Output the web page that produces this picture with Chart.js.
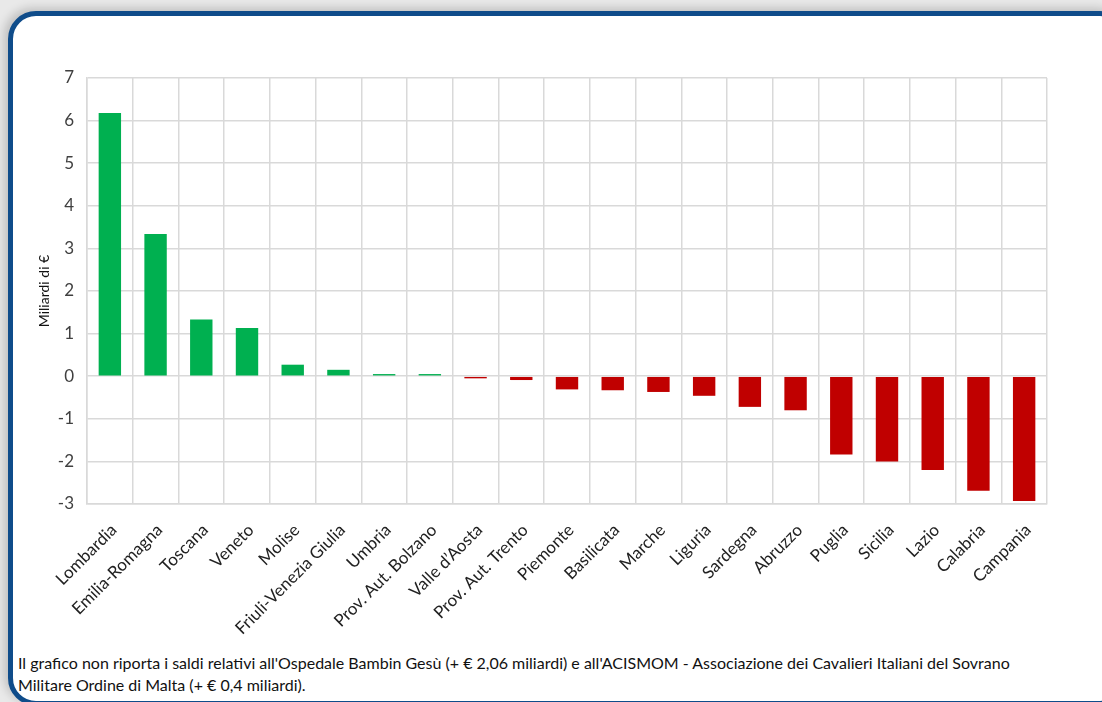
<!DOCTYPE html>
<html>
<head>
<meta charset="utf-8">
<script src="https://cdn.jsdelivr.net/npm/chart.js@4"></script>
<style>
    html, body { margin: 0; padding: 0; width: 1102px; height: 702px; overflow: hidden; background: #e9e9e9; }
    #box {
        position: absolute; left: 8px; top: 11px; width: 1120px; height: 695px;
        box-sizing: border-box; border: 5px solid #0f4c8a; border-radius: 28px;
        background: #fff; box-shadow: -4px -3px 10px rgba(0,0,0,0.18);
    }
    #wrap { position: absolute; left: 0; top: 0; width: 1102px; height: 650px; }
    #note {
        position: absolute; left: 18px; top: 652px; width: 1070px;
        font-family: Lato, "Open Sans", sans-serif; font-size: 16px; line-height: 22px; color: #111;
    }
</style>
</head>
<body>
<div id="box"></div>
<div id="wrap"><canvas id="chart" width="1102" height="650"></canvas></div>
<div id="note">Il grafico non riporta i saldi relativi all'Ospedale Bambin Gesù (+ € 2,06 miliardi) e all'ACISMOM - Associazione dei Cavalieri Italiani del Sovrano<br>Militare Ordine di Malta (+ € 0,4 miliardi).</div>
<script>
const regions = ['Lombardia', 'Emilia-Romagna', 'Toscana', 'Veneto', 'Molise', 'Friuli-Venezia Giulia', 'Umbria',
    'Prov. Aut. Bolzano', 'Valle d\u2019Aosta', 'Prov. Aut. Trento', 'Piemonte', 'Basilicata', 'Marche', 'Liguria',
    'Sardegna', 'Abruzzo', 'Puglia', 'Sicilia', 'Lazio', 'Calabria', 'Campania'];
const saldi = [6.18, 3.34, 1.33, 1.13, 0.27, 0.15, 0.05, 0.05, -0.05, -0.09, -0.31, -0.33, -0.37, -0.46,
    -0.72, -0.80, -1.84, -2.00, -2.20, -2.69, -2.93];
const yTicks = [7, 6, 5, 4, 3, 2, 1, 0, -1, -2, -3];

const font = 'Lato, "Open Sans", sans-serif';

new Chart(document.getElementById('chart'), {
    type: 'bar',
    data: {
        labels: regions,
        datasets: [{
            data: saldi,
            backgroundColor: ctx => ctx.raw >= 0 ? '#00b050' : '#c00000',
            barPercentage: 0.49,
            categoryPercentage: 1
        }]
    },
    options: {
        responsive: false,
        animation: false,
        devicePixelRatio: 1,
        layout: { padding: { top: 78, right: 55, left: 36, bottom: 0 } },
        plugins: { legend: { display: false }, tooltip: { enabled: false } },
        scales: {
            y: {
                min: Math.min(...yTicks),
                max: Math.max(...yTicks),
                afterFit: s => { s.width = 51; },
                afterBuildTicks: s => { s.ticks = yTicks.map(v => ({ value: v })); },
                ticks: { color: '#404040', font: { family: font, size: 17 }, padding: 13 },
                grid: { color: '#d9d9d9', lineWidth: 1.5, drawTicks: false },
                border: { color: '#d9d9d9', width: 1.5 },
                title: { display: true, text: 'Miliardi di \u20ac', color: '#111', font: { family: font, size: 14 }, padding: { top: 0, bottom: 0 } }
            },
            x: {
                afterFit: s => { s.height = 146; },
                ticks: { color: '#222', font: { family: font, size: 17 }, minRotation: 45, maxRotation: 45, autoSkip: false, padding: 16, labelOffset: 4 },
                grid: { color: '#d9d9d9', lineWidth: 1.5, drawTicks: false, offset: true },
                border: { color: '#d9d9d9', width: 1.5 }
            }
        }
    }
});
</script>
</body>
</html>
